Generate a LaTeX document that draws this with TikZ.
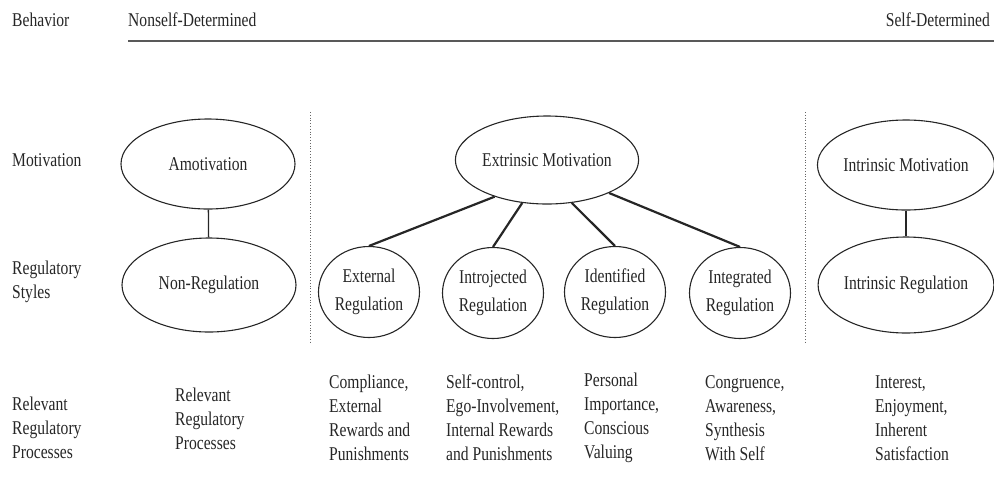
\documentclass[tikz,border=0pt]{standalone}
\usepackage{fontspec}
\setmainfont[FakeStretch=0.8]{Liberation Serif}
\usetikzlibrary{shapes.geometric}
\definecolor{ink}{HTML}{262626}
\begin{document}
\begin{tikzpicture}[x=1pt,y=-1pt,
  every node/.style={text=ink,font=\fontsize{19.5}{24}\selectfont},
  lab/.style={anchor=west,align=left,inner sep=0pt},
  big/.style={draw=ink,line width=1.1pt,ellipse,minimum width=174pt,minimum height=90pt,inner sep=0pt,align=center},
  small/.style={draw=ink,line width=1.1pt,ellipse,minimum width=101pt,minimum height=91pt,inner sep=0pt,align=center,font=\fontsize{19.5}{28}\selectfont},
  link/.style={draw=ink,line width=1.3pt},
  thick link/.style={draw=ink,line width=2.2pt},
  sep/.style={draw=gray!80!black,line width=0.8pt,dotted}]
\useasboundingbox (0,0) rectangle (994,483);
% header
\node[lab] (beh) at (12,20) {Behavior};
\node[lab] (nsd) at (128,20) {Nonself-Determined};
\node[anchor=east,inner sep=0pt] (sd) at (990,20) {Self-Determined};
\coordinate (hl) at (128,41);
\coordinate (hr) at (994,41);
\draw[draw=gray!70!black,line width=2.4pt] (hl) -- (hr);
% row labels
\node[lab] (mot) at (12,160) {Motivation};
\node[lab] (reg) at (12,282) {Regulatory\\Styles};
\node[lab] (rel) at (12,428) {Relevant\\Regulatory\\Processes};
% separators
\coordinate (s1t) at (310,112); \coordinate (s1b) at (310,342);
\coordinate (s2t) at (805,112); \coordinate (s2b) at (805,342);
\draw[sep] (s1t) -- (s1b);
\draw[sep] (s2t) -- (s2b);
% left column
\node[big] (amo) at (208,164) {Amotivation};
\node[big,minimum height=94pt] (nonreg) at (209,285) {Non-Regulation};
\draw[link] (amo) -- (nonreg);
% middle
\node[big,minimum width=176pt,minimum height=88pt] (ext) at (547,160) {Extrinsic Motivation};
\node[small] (er) at (369,292) {External\\Regulation};
\node[small] (ir) at (493,293) {Introjected\\Regulation};
\node[small] (idr) at (615,292) {Identified\\Regulation};
\node[small] (intr) at (740,293) {Integrated\\Regulation};
\draw[thick link] (ext.215) -- (er.north);
\draw[thick link] (ext.240) -- (ir.north);
\draw[thick link] (ext.300) -- (idr.north);
\draw[thick link] (ext.332) -- (intr.north);
% right
\node[big,minimum width=172pt] (im) at (906,165) {Intrinsic Motivation};
\node[big,minimum width=172pt,minimum height=96pt] (irg) at (906,285) {Intrinsic Regulation};
\draw[link] (im) -- (irg);
% processes
\node[lab] (p0) at (175,419) {Relevant\\Regulatory\\Processes};
\node[lab] (p1) at (329,418) {Compliance,\\External\\Rewards and\\Punishments};
\node[lab] (p2) at (446,418) {Self-control,\\Ego-Involvement,\\Internal Rewards\\and Punishments};
\node[lab] (p3) at (584,418) {Personal\\Importance,\\Conscious\\Valuing};
\node[lab] (p4) at (705,418) {Congruence,\\Awareness,\\Synthesis\\With Self};
\node[lab] (p5) at (875,418) {Interest,\\Enjoyment,\\Inherent\\Satisfaction};
\end{tikzpicture}
\end{document}
